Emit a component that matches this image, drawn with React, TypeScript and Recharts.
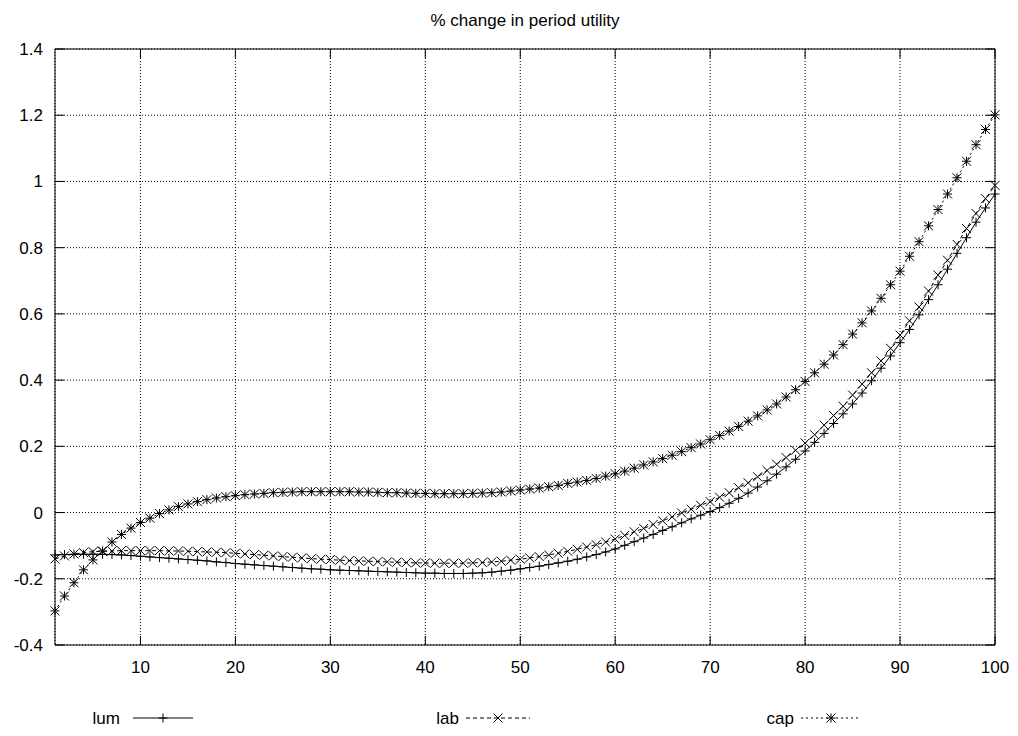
import React from 'react';
import { LineChart, Line, XAxis, YAxis, CartesianGrid, ReferenceArea } from 'recharts';

const periods: number[] = Array.from({ length: 100 }, (_, i) => i + 1);

const lum: number[] = [
  -0.128, -0.127, -0.126, -0.126, -0.126, -0.126, -0.127, -0.128, -0.130, -0.132,
  -0.134, -0.136, -0.138, -0.140, -0.142, -0.144, -0.146, -0.149, -0.151, -0.154,
  -0.156, -0.158, -0.160, -0.162, -0.164, -0.166, -0.168, -0.170, -0.171, -0.173,
  -0.174, -0.175, -0.176, -0.177, -0.178, -0.179, -0.180, -0.181, -0.182, -0.183,
  -0.183, -0.184, -0.184, -0.184, -0.183, -0.182, -0.180, -0.177, -0.174, -0.170,
  -0.166, -0.162, -0.157, -0.152, -0.147, -0.141, -0.134, -0.127, -0.119, -0.110,
  -0.099, -0.088, -0.077, -0.066, -0.054, -0.043, -0.031, -0.019, -0.008, 0.003,
  0.015, 0.028, 0.043, 0.059, 0.077, 0.096, 0.116, 0.138, 0.161, 0.186,
  0.212, 0.239, 0.269, 0.298, 0.328, 0.361, 0.398, 0.436, 0.473, 0.513,
  0.553, 0.597, 0.643, 0.688, 0.735, 0.783, 0.830, 0.877, 0.920, 0.962,
];

const lab: number[] = [
  -0.140, -0.131, -0.125, -0.121, -0.118, -0.117, -0.116, -0.115, -0.115, -0.115,
  -0.115, -0.115, -0.116, -0.116, -0.117, -0.118, -0.119, -0.120, -0.121, -0.123,
  -0.125, -0.127, -0.129, -0.131, -0.133, -0.135, -0.137, -0.139, -0.141, -0.142,
  -0.144, -0.145, -0.146, -0.147, -0.148, -0.149, -0.150, -0.151, -0.152, -0.152,
  -0.153, -0.153, -0.153, -0.153, -0.152, -0.151, -0.149, -0.147, -0.144, -0.141,
  -0.137, -0.133, -0.128, -0.123, -0.117, -0.111, -0.104, -0.097, -0.089, -0.080,
  -0.069, -0.058, -0.048, -0.036, -0.025, -0.013, -0.001, 0.010, 0.022, 0.033,
  0.046, 0.060, 0.075, 0.090, 0.108, 0.127, 0.146, 0.166, 0.188, 0.210,
  0.235, 0.264, 0.293, 0.321, 0.355, 0.388, 0.422, 0.458, 0.496, 0.536,
  0.579, 0.621, 0.669, 0.717, 0.762, 0.810, 0.858, 0.903, 0.948, 0.988,
];

const cap: number[] = [
  -0.297, -0.252, -0.212, -0.173, -0.143, -0.116, -0.089, -0.066, -0.047, -0.030,
  -0.017, -0.003, 0.008, 0.018, 0.026, 0.033, 0.039, 0.044, 0.048, 0.051,
  0.054, 0.056, 0.058, 0.060, 0.061, 0.062, 0.063, 0.063, 0.063, 0.063,
  0.063, 0.063, 0.062, 0.062, 0.061, 0.060, 0.060, 0.059, 0.058, 0.058,
  0.057, 0.057, 0.057, 0.057, 0.058, 0.059, 0.060, 0.062, 0.065, 0.068,
  0.071, 0.074, 0.078, 0.082, 0.088, 0.092, 0.097, 0.103, 0.110, 0.117,
  0.125, 0.134, 0.144, 0.153, 0.163, 0.173, 0.184, 0.196, 0.207, 0.220,
  0.233, 0.246, 0.260, 0.276, 0.292, 0.310, 0.328, 0.349, 0.371, 0.396,
  0.422, 0.448, 0.476, 0.507, 0.539, 0.573, 0.609, 0.647, 0.688, 0.729,
  0.774, 0.818, 0.866, 0.915, 0.962, 1.011, 1.061, 1.111, 1.157, 1.201,
];

const xTicks: number[] = [10, 20, 30, 40, 50, 60, 70, 80, 90, 100];
const yTicks: number[] = [-0.4, -0.2, 0, 0.2, 0.4, 0.6, 0.8, 1, 1.2, 1.4];
const title = '% change in period utility';
const seriesNames = ['lum', 'lab', 'cap'];

const data = periods.map((p, i) => ({ x: p, lum: lum[i], lab: lab[i], cap: cap[i] }));

const W = 1018;
const H = 736;
const PLOT_LEFT = 55;
const PLOT_TOP = 49;
const PLOT_RIGHT = 995;
const PLOT_BOTTOM = 645;
const TICK = 9;
const FONT = '"Liberation Sans", Arial, Helvetica, sans-serif';
const FS = 17;
const M = 4.5;

const plusPath = (x: number, y: number) => `M${x - M},${y}H${x + M}M${x},${y - M}V${y + M}`;
const crossPath = (x: number, y: number) =>
  `M${x - M},${y - M}L${x + M},${y + M}M${x - M},${y + M}L${x + M},${y - M}`;
const starPath = (x: number, y: number) => plusPath(x, y) + crossPath(x, y);

const makeDot = (fn: (x: number, y: number) => string) => (props: any) => {
  const { cx, cy, index } = props;
  if (cx == null || cy == null) return <g key={`d${index}`} />;
  return <path key={`d${index}`} d={fn(cx, cy)} stroke="#000" strokeWidth={1} fill="none" />;
};

const YTick = (props: any) => {
  const { y, payload } = props;
  return (
    <g>
      <text x={PLOT_LEFT - 12} y={y} dy={6} textAnchor="end" fontSize={FS} fontFamily={FONT} fill="#000">
        {String(payload.value)}
      </text>
      <line x1={PLOT_LEFT} x2={PLOT_LEFT + TICK} y1={y} y2={y} stroke="#000" />
      <line x1={PLOT_RIGHT - TICK} x2={PLOT_RIGHT} y1={y} y2={y} stroke="#000" />
    </g>
  );
};

const XTick = (props: any) => {
  const { x, payload } = props;
  return (
    <g>
      <text x={x} y={PLOT_BOTTOM + 28} textAnchor="middle" fontSize={FS} fontFamily={FONT} fill="#000">
        {String(payload.value)}
      </text>
      <line x1={x} x2={x} y1={PLOT_BOTTOM} y2={PLOT_BOTTOM - TICK} stroke="#000" />
      <line x1={x} x2={x} y1={PLOT_TOP} y2={PLOT_TOP + TICK} stroke="#000" />
    </g>
  );
};

const legendItems = [
  { name: seriesNames[0], textEnd: 120, x1: 133, x2: 193, dash: undefined as string | undefined, mark: plusPath },
  { name: seriesNames[1], textEnd: 459, x1: 466, x2: 530, dash: '4 3', mark: crossPath },
  { name: seriesNames[2], textEnd: 794, x1: 801, x2: 861, dash: '2 3', mark: starPath },
];

export default function App() {
  return (
    <div style={{ position: 'absolute', left: 0, top: 0, width: W, height: H, background: '#fff' }}>
      <LineChart width={W} height={H} data={data} margin={{ top: PLOT_TOP, right: W - PLOT_RIGHT, bottom: 0, left: 0 }}>
        <CartesianGrid stroke="#000" strokeDasharray="1 2" strokeWidth={1} />
        <XAxis
          dataKey="x"
          type="number"
          domain={[1, 100]}
          ticks={xTicks}
          height={H - PLOT_BOTTOM}
          axisLine={false}
          tickLine={false}
          tick={<XTick />}
          interval={0}
        />
        <YAxis
          type="number"
          domain={[-0.4, 1.4]}
          ticks={yTicks}
          width={PLOT_LEFT}
          axisLine={false}
          tickLine={false}
          tick={<YTick />}
          interval={0}
        />
        <ReferenceArea x1={1} x2={100} y1={-0.4} y2={1.4} fill="none" stroke="#000" strokeWidth={1} fillOpacity={0} />
        <Line dataKey="lum" stroke="#000" strokeWidth={1} dot={makeDot(plusPath)} activeDot={false} isAnimationActive={false} />
        <Line dataKey="lab" stroke="#000" strokeWidth={1} strokeDasharray="4 3" dot={makeDot(crossPath)} activeDot={false} isAnimationActive={false} />
        <Line dataKey="cap" stroke="#000" strokeWidth={1} strokeDasharray="2 3" dot={makeDot(starPath)} activeDot={false} isAnimationActive={false} />
      </LineChart>
      <svg width={W} height={H} style={{ position: 'absolute', left: 0, top: 0, pointerEvents: 'none' }}>
        <text x={(PLOT_LEFT + PLOT_RIGHT) / 2} y={26} textAnchor="middle" fontSize={FS} fontFamily={FONT} fill="#000">
          {title}
        </text>
        {legendItems.map((it) => (
          <g key={it.name}>
            <text x={it.textEnd} y={724} textAnchor="end" fontSize={FS} fontFamily={FONT} fill="#000">
              {it.name}
            </text>
            <line x1={it.x1} x2={it.x2} y1={718} y2={718} stroke="#000" strokeDasharray={it.dash} />
            <path d={it.mark((it.x1 + it.x2) / 2, 718)} stroke="#000" fill="none" />
          </g>
        ))}
      </svg>
    </div>
  );
}
